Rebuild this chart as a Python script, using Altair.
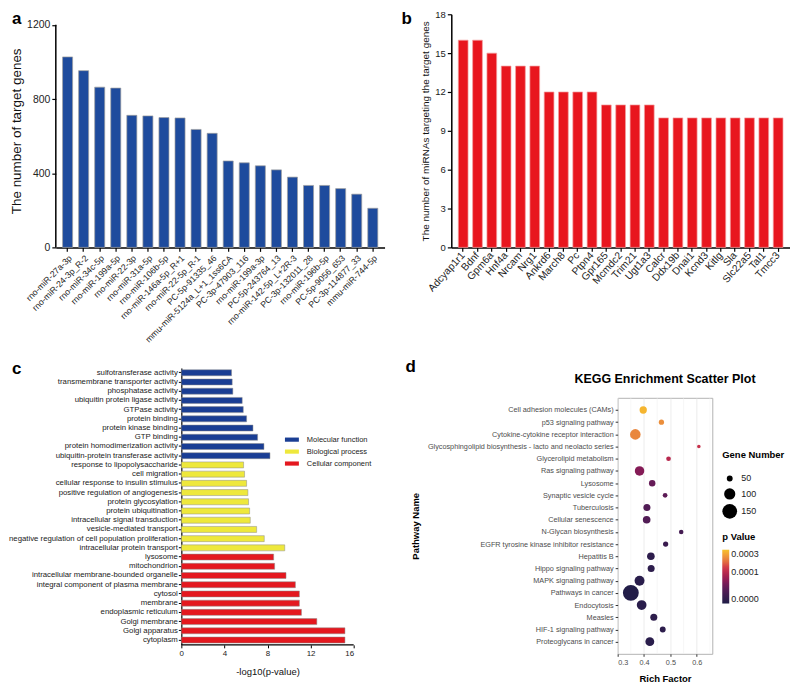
import altair as alt
import pandas as pd

FONT = "Liberation Sans"

# ---------------- panel a ----------------
a_mirna = ["rno-miR-27a-3p", "rno-miR-24-3p_R-2", "rno-miR-34c-5p", "rno-miR-199a-5p",
           "rno-miR-22-3p", "rno-miR-31a-5p", "rno-miR-106b-5p", "rno-miR-146a-5p_R+1",
           "rno-miR-22-5p_R-1", "PC-5p-91335_46", "mmu-miR-5124a_L+1_1ss6CA", "PC-3p-47903_116",
           "rno-miR-199a-3p", "PC-5p-243764_13", "rno-miR-142-5p_L+2R-3", "PC-3p-132011_28",
           "rno-miR-196b-5p", "PC-5p-9056_653", "PC-3p-114877_33", "mmu-miR-744-5p"]
a_count = [1027, 953, 864, 859, 712, 709, 700, 698, 636, 615,
           466, 456, 440, 418, 379, 334, 334, 317, 287, 211]
a_ticks = [0, 200, 400, 600, 800, 1000, 1200]

# ---------------- panel b ----------------
b_gene = ["Adcyap1r1", "Bdnf", "Gpm6a", "Hnf4a", "Nrcam", "Nrg1", "Ankrd6", "March8", "Pc",
          "Ptpn4", "Gpr165", "Mcmdc2", "Trim21", "Ugt1a3", "Calcr", "Ddx19b", "Dnai1", "Kcnd3",
          "Kitlg", "Sla", "Slc22a5", "Tal1", "Tmcc3"]
b_count = [16, 16, 15, 14, 14, 14, 12, 12, 12, 12, 11, 11, 11, 11, 10, 10, 10, 10, 10, 10, 10, 10, 10]
b_ticks = [0, 3, 6, 9, 12, 15, 18]

# ---------------- panel c ----------------
c_term = ["sulfotransferase activity", "transmembrane transporter activity", "phosphatase activity",
          "ubiquitin protein ligase activity", "GTPase activity", "protein binding",
          "protein kinase binding", "GTP binding", "protein homodimerization activity",
          "ubiquitin-protein transferase activity",
          "response to lipopolysaccharide", "cell migration", "cellular response to insulin stimulus",
          "positive regulation of angiogenesis", "protein glycosylation", "protein ubiquitination",
          "intracellular signal transduction", "vesicle-mediated transport",
          "negative regulation of cell population proliferation", "intracellular protein transport",
          "lysosome", "mitochondrion", "intracellular membrane-bounded organelle",
          "integral component of plasma membrane", "cytosol", "membrane", "endoplasmic reticulum",
          "Golgi membrane", "Golgi apparatus", "cytoplasm"]
c_value = [4.66, 4.72, 4.78, 5.65, 5.75, 6.06, 6.65, 7.08, 7.67, 8.23,
           5.78, 5.87, 6.06, 6.18, 6.24, 6.34, 6.40, 6.99, 7.70, 9.60,
           8.57, 8.66, 9.72, 10.59, 10.96, 10.96, 11.15, 12.58, 15.19, 15.19]
c_groups = ["Molecular function", "Biological process", "Cellular component"]
c_group = [c_groups[0]] * 10 + [c_groups[1]] * 10 + [c_groups[2]] * 10
c_colors = ["#1A3E94", "#EEE83C", "#E4181F"]
c_ticks = [0, 4, 8, 12, 16]

# ---------------- panel d ----------------
d_title = "KEGG Enrichment Scatter Plot"
d_pathway = ["Cell adhesion molecules (CAMs)", "p53 signaling pathway",
             "Cytokine-cytokine receptor interaction",
             "Glycosphingolipid biosynthesis - lacto and neolacto series",
             "Glycerolipid metabolism", "Ras signaling pathway", "Lysosome", "Synaptic vesicle cycle",
             "Tuberculosis", "Cellular senescence", "N-Glycan biosynthesis",
             "EGFR tyrosine kinase inhibitor resistance", "Hepatitis B", "Hippo signaling pathway",
             "MAPK signaling pathway", "Pathways in cancer", "Endocytosis", "Measles",
             "HIF-1 signaling pathway", "Proteoglycans in cancer"]
d_rich = [0.397, 0.466, 0.367, 0.608, 0.493, 0.383, 0.431, 0.480, 0.411, 0.410,
          0.541, 0.482, 0.426, 0.427, 0.383, 0.350, 0.391, 0.437, 0.471, 0.422]
d_genes = [60, 46, 92, 38, 43, 80, 54, 43, 58, 63, 42, 46, 63, 58, 85, 169, 83, 58, 50, 74]
d_p = [0.00028, 0.00022, 0.00021, 0.00012, 0.0001, 0.00005, 0.00003, 0.000025, 0.000018, 0.000018,
       0.000012, 0.000008, 0.000002, 0.000002, 0.000001, 0.0000001, 0.000001, 0.000002, 0.000002,
       0.000001]
d_xticks = [0.3, 0.4, 0.5, 0.6]
d_minor = [0.35, 0.45, 0.55, 0.65]
d_size_legend = [50, 100, 150]
d_p_legend = [0, 0.0001, 0.0003]


def label(txt, x, y, size=17, align="left", baseline="top"):
    return alt.Chart(pd.DataFrame({"t": [txt]})).mark_text(
        fontSize=size, fontWeight="bold", font=FONT, align=align, baseline=baseline,
        color="black"
    ).encode(text="t:N", x=alt.value(x), y=alt.value(y))


# ---- a ----
df_a = pd.DataFrame({"mirna": a_mirna, "count": a_count})
a_bars = alt.Chart(df_a).mark_bar(color="#1E4B9D", stroke="#9e9e9e", strokeWidth=0.7).encode(
    x=alt.X("mirna:N", sort=None, title=None,
            scale=alt.Scale(paddingInner=0.375, paddingOuter=0.42),
            axis=alt.Axis(labelAngle=-45, labelFontSize=8.7, labelColor="#222", tickColor="black",
                          tickSize=4, tickWidth=1.2, domainColor="black", domainWidth=1.5,
                          labelPadding=2, labelOverlap=False, labelLimit=300)),
    y=alt.Y("count:Q", scale=alt.Scale(domain=[0, 1257], nice=False),
            axis=alt.Axis(values=a_ticks, format="d", title="The number of target genes",
                          titleFontSize=13.5, titleFontWeight="normal", titleColor="#111",
                          labelFontSize=10.5, labelColor="#222", domain=False, grid=False,
                          tickColor="black", tickSize=4, tickWidth=1.2, labelPadding=2,
                          titlePadding=3)),
)
a_rule = alt.Chart(pd.DataFrame({"t": [0]})).mark_rule(color="black", strokeWidth=1.5).encode(
    x=alt.value(0), y=alt.datum(a_ticks[0]), y2=alt.datum(a_ticks[-1]))
panel_a = alt.layer(a_bars, a_rule, label("a", -44, -3)).properties(width=330, height=234)

# ---- b ----
df_b = pd.DataFrame({"gene": b_gene, "count": b_count})
b_bars = alt.Chart(df_b).mark_bar(color="#E8161E", stroke="#F4A0A0", strokeWidth=0.7).encode(
    x=alt.X("gene:N", sort=None, title=None,
            scale=alt.Scale(paddingInner=0.32, paddingOuter=0.49),
            axis=alt.Axis(labelAngle=-48, labelFontSize=10.3, labelColor="#222", tickColor="black",
                          tickSize=4, tickWidth=1.2, domainColor="black", domainWidth=1.5,
                          labelPadding=2, labelOverlap=False)),
    y=alt.Y("count:Q", scale=alt.Scale(domain=[0, 18], nice=False),
            axis=alt.Axis(values=b_ticks, title="The number of miRNAs targeting the target genes",
                          titleFontSize=10, titleFontWeight="normal", titleColor="#111",
                          labelFontSize=9.5, labelColor="#222", grid=False, tickColor="black",
                          tickSize=4, tickWidth=1.2, domainColor="black", domainWidth=1.5,
                          titlePadding=4)),
)
panel_b = alt.layer(b_bars, label("b", -50, -3)).properties(width=340, height=234)

row1 = alt.hconcat(panel_a, panel_b, spacing=17)

# ---- c ----  (plot origin shared with panel a; value 0 sits C_SHIFT px to the right)
C_SHIFT = 126
C_W = 173
C_H = 278
c_per_unit = C_W / c_ticks[-1]
df_c = pd.DataFrame({"term": c_term, "value": c_value, "group": c_group})
c_xscale = alt.Scale(domain=[-C_SHIFT / c_per_unit, c_ticks[-1]], nice=False, zero=False)
c_xaxis = alt.Axis(values=c_ticks, title="-log10(p-value)", titleFontSize=9.5,
                   titleFontWeight="normal", titleColor="#111", labelFontSize=8,
                   labelColor="#222", grid=False, tickSize=3, tickColor="black", domain=False,
                   titlePadding=9, titleX=C_SHIFT + C_W / 2)
c_bars = alt.Chart(df_c).mark_bar(stroke="#8c8c8c", strokeWidth=0.5).encode(
    y=alt.Y("term:N", sort=None, title=None,
            scale=alt.Scale(paddingInner=0.35, paddingOuter=0.2),
            axis=alt.Axis(labelFontSize=7.8, labelColor="#222", tickSize=3, tickColor="black",
                          domainColor="black", domainWidth=1.2, labelPadding=1, labelLimit=400,
                          offset=-C_SHIFT)),
    x=alt.X("value:Q", scale=c_xscale, axis=c_xaxis),
    color=alt.Color("group:N", scale=alt.Scale(domain=c_groups, range=c_colors),
                    legend=alt.Legend(title=None, orient="none", legendX=C_SHIFT + 104,
                                      legendY=65,
                                      symbolType="M-1,-0.3L1,-0.3L1,0.3L-1,0.3Z", symbolSize=196,
                                      symbolStrokeWidth=0, labelFontSize=7.5, labelColor="#222",
                                      rowPadding=1, labelOffset=8)),
)
c_axisline = alt.Chart(pd.DataFrame({"t": [0]})).mark_rule(color="black", strokeWidth=1.2).encode(
    x=alt.datum(c_ticks[0], scale=c_xscale), x2=alt.datum(c_ticks[-1]), y=alt.value(C_H))
panel_c = alt.layer(c_bars, c_axisline, label("c", -44, -7)).properties(
    width=C_SHIFT + C_W, height=C_H)

# ---- d ----
D_W = 95
D_H = 257
D_HEAD = 29
df_d = pd.DataFrame({"pathway": d_pathway, "rich": d_rich, "genes": d_genes, "p": d_p})
x_axis_d = alt.Axis(values=d_xticks, format=".1f", title="Rich Factor", titleFontSize=9.5,
                    titleFontWeight="bold", titleColor="black", labelFontSize=7.3,
                    labelColor="#4d4d4d", domain=False, tickSize=2.5, tickColor="#333",
                    gridColor="#e3e3e3", gridWidth=0.7, titlePadding=8)
x_scale_d = alt.Scale(domain=[0.3, 0.659], nice=False, zero=False)
d_minor_rules = alt.Chart(pd.DataFrame({"v": d_minor})).mark_rule(
    color="#efefef", strokeWidth=0.5).encode(x=alt.X("v:Q", scale=x_scale_d, axis=x_axis_d))
d_points = alt.Chart(df_d).mark_circle(opacity=1).encode(
    x=alt.X("rich:Q", scale=x_scale_d, axis=x_axis_d),
    y=alt.Y("pathway:N", sort=None, scale=alt.Scale(padding=1.0),
            axis=alt.Axis(title="Pathway Name", titleFontSize=9.5, titleFontWeight="bold",
                          titleColor="black", labelFontSize=7.3, labelColor="#4d4d4d",
                          labelLimit=400, domain=False, tickSize=2.5, tickColor="#333",
                          gridColor="#e3e3e3", gridWidth=0.7, titlePadding=7)),
    size=alt.Size("genes:Q", scale=alt.Scale(domain=[35, 180], range=[7.4, 274], zero=False),
                  legend=alt.Legend(title="Gene Number", values=d_size_legend, orient="none",
                                    legendX=105, legendY=52, symbolFillColor="black",
                                    symbolStrokeWidth=0, symbolOpacity=1, titleFontSize=9.5,
                                    titlePadding=15, rowPadding=4, labelFontSize=9,
                                    labelColor="#222", symbolType="circle")),
    color=alt.Color("p:Q",
                    scale=alt.Scale(type="sqrt", domain=[0, 0.0003],
                                    range=["#1f1d47", "#3b1b4f", "#6a1b57", "#a1204f",
                                           "#d0384a", "#e8863e", "#f5c22c"], clamp=True),
                    legend=alt.Legend(title="p Value", values=d_p_legend, format=".4f",
                                      orient="none", legendX=105, legendY=D_HEAD + 136,
                                      direction="vertical", gradientLength=54,
                                      gradientThickness=7, titleFontSize=9.5, titlePadding=8,
                                      labelFontSize=9, labelColor="#222")),
)
panel_d_plot = alt.layer(d_minor_rules, d_points).properties(
    width=D_W, height=D_H,
    view=alt.ViewBackground(stroke="#b3b3b3", strokeWidth=1),
).resolve_scale(size="independent")

# header strip above panel d: panel letter and plot title
d_head = alt.layer(label("d", -213, -9),
                   label(d_title, D_W / 2, 15, size=12.5, align="center", baseline="alphabetic")
                   ).properties(width=D_W, height=D_HEAD)
panel_d = alt.vconcat(d_head, panel_d_plot, spacing=0).resolve_legend(size="independent")

row2 = alt.hconcat(panel_c, panel_d, spacing=34).resolve_legend(size="independent")

chart = alt.vconcat(row1, row2, spacing=14).properties(
    padding=0).resolve_legend(size="independent").configure_view(stroke=None).configure_axis(
    labelFont=FONT, titleFont=FONT).configure_legend(
    labelFont=FONT, titleFont=FONT).configure_title(font=FONT)

chart.save("out.html", embed_options={"renderer": "svg", "actions": False})
